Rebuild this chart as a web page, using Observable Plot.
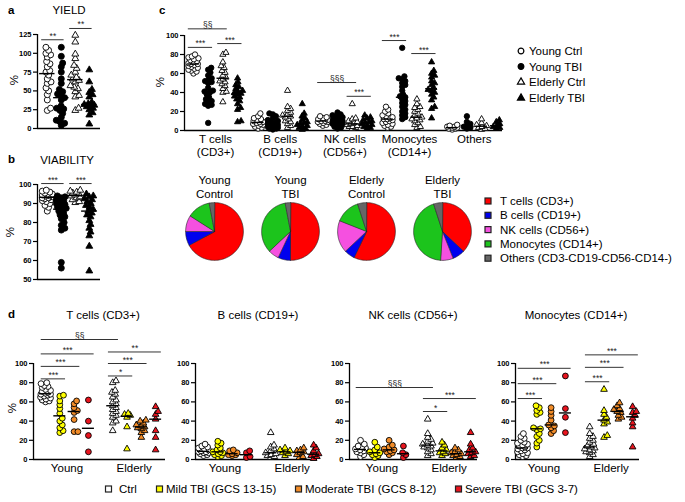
<!DOCTYPE html>
<html><head><meta charset="utf-8">
<script src="https://cdn.jsdelivr.net/npm/d3@7"></script>
<script src="https://cdn.jsdelivr.net/npm/@observablehq/plot@0.6"></script>
<style>
body{margin:0;background:#fff;}
#root{position:relative;width:685px;height:502px;overflow:hidden;font-family:"Liberation Sans",Arial,sans-serif;background:#fff;}
</style></head><body><div id="root"></div>
<script>
const FONT = '"Liberation Sans", Arial, Helvetica, sans-serif';

// ---------------- DATA ----------------
const groupNames = ["Young Ctrl", "Young TBI", "Elderly Ctrl", "Elderly TBI"];

// panel a: YIELD (%)
const yieldYoungCtrl = [108,104,100,98,95,89,86,82,77,75,71,66,62,60,54,50,45,38,27,24];
const yieldYoungTBI = [108,96,87,82,75,66,60,52,49,46,44,41,38,30,27,26,24,20,15,11,9,7,4];
const yieldElderlyCtrl = [124,115,99,93,84,80,75,71,68,66,64,62,57,55,53,49,44,42,27,24];
const yieldElderlyTBI = [78,62,52,48,45,42,35,33,32,31,30,29,27,25,21,18,6];
const yieldTicks = [0,25,50,75,100,125];
const yieldSig = [{a:0,b:1,y:118,label:"**"},{a:2,b:3,y:133,label:"**"}];

// panel b: VIABILITY (%)
const viaYoungCtrl = [97,96.5,96,95.5,95,95,94.5,94,94,93.5,93,93,92.5,92,91.5,91,90,89,88,86];
const viaYoungTBI = [94,93.5,93,92,91.5,91,90,89.5,89,88,87.5,87,86,85,84,83,82,80,78.5,77,76,59,56];
const viaElderlyCtrl = [97,96.5,96,95.5,95,94.5,94,93.5,93,92,91,90.5];
const viaElderlyTBI = [95,94,93.5,92.5,92,91,90,89,88,87,86,85,84,83,81,79,77,75,73,67.5,54.5];
const viaTicks = [50,60,70,80,90,100];
const viaSig = [{a:0,b:1,y:100.5,label:"***"},{a:2,b:3,y:100.5,label:"***"}];

// panel c: cell populations (%)
const cellCats = ["T cells\n(CD3+)", "B cells\n(CD19+)", "NK cells\n(CD56+)", "Monocytes\n(CD14+)", "Others"];
const cTcells = [
  [80,78,77,76,75,74,73,72,71,70,70,69,68,67,66,65,64,63,62,60],
  [66,64,61,58,55,53,52,51,50,45,42,41,40,38,35,33,31,30,28,27,26,8],
  [82,80,72,68,66,63,61,58,56,54,52,51,49,47,44,41,40,30],
  [55,51,48,46,44,42,41,40,39,38,36,35,33,31,28,24,22,10,9]];
const cBcells = [
  [18,15,13,12,11,10,9,9,8,7,7,6,5,4,3,2],
  [18,17,15,13,11,10,9,8,7,6,6,5,5,4,3,3,2,2,1],
  [42,25,23,21,19,17,16,15,14,12,10,9,7,5,3],
  [28,18,15,13,11,9,8,7,6,5,4,3,2,1]];
const cNKcells = [
  [15,14,13,12,11,10,10,9,9,8,7,6,5],
  [19,17,16,15,14,13,12,11,10,10,9,8,7,6,5,4,3,2],
  [28,13,12,10,9,8,7,6,5,4,4,3,2],
  [16,14,13,11,10,9,8,7,6,5,4,3,2]];
const cMonocytes = [
  [25,22,20,18,16,15,14,13,12,12,11,10,9,8,7,6,5,4,3],
  [87,57,55,54,52,50,48,46,42,38,36,35,33,31,29,27,25,22,20,18,16,14,12],
  [33,28,25,24,22,20,18,16,14,13,12,11,10,8,6,4,3],
  [72,63,60,58,56,52,50,48,45,43,42,40,38,35,32,25,23,13]];
const cOthers = [
  [6,5,4,4,3,3,2,2,1],
  [15,9,7,5,4,3,2],
  [12,8,6,5,4,3,2,1],
  [11,9,7,5,4,3,2]];
const cTicks = [0,20,40,60,80,100];
const cSig = [
  {cat:0,a:0,b:2,y:107,label:"§§"},
  {cat:0,a:0,b:1,y:87.5,label:"***"},
  {cat:0,a:2,b:3,y:91.5,label:"***"},
  {cat:2,a:0,b:2,y:50.5,label:"§§§"},
  {cat:2,a:2,b:3,y:36,label:"***"},
  {cat:3,a:0,b:1,y:94.7,label:"***"},
  {cat:3,a:2,b:3,y:81,label:"***"}];

// pies: mean composition (%)
const pieTitles = ["Young\nControl", "Young\nTBI", "Elderly\nControl", "Elderly\nTBI"];
const pieCells = ["T cells (CD3+)", "B cells (CD19+)", "NK cells (CD56+)", "Monocytes (CD14+)", "Others (CD3-CD19-CD56-CD14-)"];
const pieColors = ["#ff0000", "#0000ee", "#f550e0", "#1cc41c", "#666666"];
const pieYoungCtrl = [67,8,9,13,3];
const pieYoungTBI = [50,7,6,34,3];
const pieElderlyCtrl = [57,6,18,14,5];
const pieElderlyTBI = [37,7,7,44,5];

// panel d: by TBI severity
const severityNames = ["Ctrl", "Mild TBI (GCS 13-15)", "Moderate TBI (GCS 8-12)", "Severe TBI (GCS 3-7)"];
const severityColors = ["#ffffff", "#ffff00", "#f28c28", "#e8141e"];
const ageNames = ["Young", "Elderly"];
const dTYoung = [[80,79,77,76,75,73,72,71,70,69,68,68,67,66,65,64,63,62,61,60],[67,66,61,57,53,48,43,40,36,33,30,28],[61,58,54,51,49,41.6,29,29],[62,40,25,8]];
const dTElderly = [[82,80,72,70,68,65,62,60,58,56,54,52,50,48,46,44,40,38,30],[48,47,46,44,34,11],[41,40,38,36,35,34,33,32,30,28,23],[55,50,47,42,30,23,10]];
const dBYoung = [[16,14,13,12,11,10,9,8,8,7,7,6,5,4],[19,17,15,12,10,8,8,7,6,5,4,3],[10,9,7,6,5,5,4],[9,7,3,2]];
const dBElderly = [[28,15,13,11,9,7,6,5,4,3,2],[12,10,9,8,7,6,4],[12,10,9,8,7,5,3,2],[15,12,9,6,5,4,3,1]];
const dNKYoung = [[20,16,14,13,12,11,10,9,8,7,5,3],[18,13,10,8,7,6,5,4,2],[20,15,13,11,10,9,8,7,5],[14,7,5,2]];
const dNKElderly = [[42,27,23,21,19,17,16,15,14,13,12,10,8,6,4],[18,15,12,10,8,7,6,4],[12,10,8,7,6,5,4,3,2],[28,16,12,10,8,7,6,4,3]];
const dMonoYoung = [[27,24,22,20,18,17,16,15,14,13,12,12,11,10,9,8,7,6,5,4,3],[56,54,51,49,47,33,32,31,27,24,20,17,13],[54,50,46,41,36,35,33,30,27],[87,53,44,28]];
const dMonoElderly = [[34,27,24,22,20,18,16,14,13,12,11,10,9,8,7,5,3],[73,51,47,44,41,39,37,25,23],[59,56,53,52,50,49,46,44,42],[55,50,49,46,43,38,34,13]];
const dTicks = [0,20,40,60,80,100];
const dTitles = ["T cells (CD3+)", "B cells (CD19+)", "NK cells (CD56+)", "Monocytes (CD14+)"];
const dTSig = [{a:0,b:4,y:125,label:"§§"},{a:0,b:3,y:110,label:"***"},{a:0,b:2,y:97,label:"***"},{a:0,b:1,y:84,label:"***"},{a:4,b:7,y:112,label:"**"},{a:4,b:6,y:100,label:"***"},{a:4,b:5,y:87,label:"*"}];
const dNKSig = [{a:0,b:4,y:75,label:"§§§"},{a:4,b:7,y:63.5,label:"***"},{a:4,b:5,y:50,label:"*"}];
const dMonoSig = [{a:0,b:3,y:95,label:"***"},{a:0,b:2,y:79,label:"***"},{a:0,b:1,y:63.5,label:"***"},{a:4,b:7,y:109,label:"***"},{a:4,b:6,y:96,label:"***"},{a:4,b:5,y:81,label:"***"}];

// ---------------- HELPERS ----------------
const root = document.getElementById("root");
function place(el, left, top) {
  el.style.position = "absolute";
  el.style.left = left + "px";
  el.style.top = top + "px";
  root.appendChild(el);
}
// compact beeswarm: horizontal pixel offsets, limited to +-cap pixels (overlap allowed)
function swarm(values, pxY, pxX, diam, cap) {
  const pts = values.map(v => ({v, y: v * pxY, x: 0})).sort((a, b) => a.y - b.y);
  const placed = [];
  for (const p of pts) {
    let cands = [0];
    for (const q of placed) {
      const dy = p.y - q.y;
      if (Math.abs(dy) < diam) {
        const dx = Math.sqrt(diam * diam - dy * dy);
        cands.push(q.x + dx, q.x - dx);
      }
    }
    cands = cands.filter(c => Math.abs(c) <= cap);
    cands.push(cap, -cap, cap / 2, -cap / 2);
    cands.sort((a, b) => Math.abs(a) - Math.abs(b));
    let best = null, bestD = -1;
    for (const c of cands) {
      const md = placed.length ? d3.min(placed, q => (q.x - c) ** 2 + (q.y - p.y) ** 2) : Infinity;
      if (md >= diam * diam - 1e-6) { best = c; break; }
      if (md > bestD) { bestD = md; best = c; }
    }
    p.x = best;
    placed.push(p);
  }
  return placed.map(p => ({v: p.v, dx: p.x / pxX}));
}

function scatterPlot(cfg) {
  const {width, height, mt, mb, ml, mr, xmin, pxu, ydom, yticks, groups, sig, med, r, diam, cap, cats} = cfg;
  const xmax = xmin + (width - ml - mr) / pxu;
  const pxY = (height - mt - mb) / (ydom[1] - ydom[0]);
  const marks = [
    Plot.ruleY([ydom[0]], {stroke: "black", strokeWidth: 1.3}),
    Plot.ruleX([xmin], {stroke: "black", strokeWidth: 1.3}),
    Plot.axisY({ticks: yticks, tickSize: 4, tickPadding: 2, fontWeight: "bold", fontSize: 7.5, label: null, strokeWidth: 1.2})
  ];
  const medians = [];
  for (const g of groups) {
    const pts = swarm(g.values, pxY, pxu, diam, cap).map(p => ({x: g.cx + p.dx, y: p.v}));
    marks.push(Plot.dot(pts, {x: "x", y: "y", r: g.symbol === "triangle" ? r * 0.85 : r, symbol: g.symbol, fill: g.fill, stroke: "black", strokeWidth: 0.9}));
    medians.push({y: d3.median(g.values), x1: g.cx - med, x2: g.cx + med});
  }
  marks.push(Plot.ruleY(medians, {y: "y", x1: "x1", x2: "x2", stroke: "black", strokeWidth: 1.4}));
  if (sig) {
    marks.push(Plot.ruleY(sig, {y: "y", x1: "x1", x2: "x2", stroke: "#333", strokeWidth: 1}));
    marks.push(Plot.text(sig, {x: d => (d.x1 + d.x2) / 2, y: "y", text: "label", lineAnchor: "bottom", dy: -1, fontSize: 8.5, fill: "#222"}));
  }
  if (cats) marks.push(Plot.text(cats, {x: "x", y: "y", text: "label", lineAnchor: "top", dy: 3, fontSize: 11.5, lineHeight: 1.13}));
  return Plot.plot({
    width, height, marginTop: mt, marginBottom: mb, marginLeft: ml, marginRight: mr,
    x: {domain: [xmin, xmax], axis: null},
    y: {domain: ydom, label: null},
    style: {fontFamily: FONT, background: "transparent", overflow: "visible", color: "black"},
    marks
  });
}

// ---------------- PANEL a & b ----------------
const abSymbols = [["circle","white"],["circle","black"],["triangle","white"],["triangle","black"]];
function abGroups(arrs) {
  return arrs.map((vals, i) => ({cx: i, values: vals, symbol: abSymbols[i][0], fill: abSymbols[i][1]}));
}
const abSig = s => s.map(d => ({...d, x1: d.a - 0.4, x2: d.b + 0.2}));

place(scatterPlot({
  width: 110, height: 140, mt: 34, mb: 12, ml: 37, mr: 10, xmin: -0.7, pxu: 14,
  ydom: [0,125], yticks: yieldTicks, r: 3, diam: 4, cap: 5, med: 0.55,
  groups: abGroups([yieldYoungCtrl, yieldYoungTBI, yieldElderlyCtrl, yieldElderlyTBI]),
  sig: abSig(yieldSig)
}), 0, 0);

place(scatterPlot({
  width: 110, height: 140, mt: 34, mb: 11, ml: 37, mr: 10, xmin: -0.7, pxu: 14,
  ydom: [50,100], yticks: viaTicks, r: 3, diam: 4, cap: 5, med: 0.55,
  groups: abGroups([viaYoungCtrl, viaYoungTBI, viaElderlyCtrl, viaElderlyTBI]),
  sig: abSig(viaSig)
}), 0, 150);

// ---------------- PANEL c ----------------
const cAll = [cTcells, cBcells, cNKcells, cMonocytes, cOthers];
const cStep = 4.4;
const cGroups = [];
cAll.forEach((cat, ci) => cat.forEach((vals, gi) => cGroups.push({cx: ci * cStep + gi, values: vals, symbol: abSymbols[gi][0], fill: abSymbols[gi][1]})));
place(scatterPlot({
  width: 360, height: 162, mt: 35, mb: 32, ml: 34, mr: 8, xmin: -0.61, pxu: 14.7,
  ydom: [0,100], yticks: cTicks, r: 2.7, diam: 3.6, cap: 5, med: 0.4,
  groups: cGroups,
  sig: cSig.map(d => ({...d, x1: d.cat * cStep + d.a - 0.35, x2: d.cat * cStep + d.b + 0.3})),
  cats: cellCats.map((label, i) => ({label, x: i * cStep + 1.5, y: 0}))
}), 150, 0);

// ---------------- PIES ----------------
const pieAll = [pieYoungCtrl, pieYoungTBI, pieElderlyCtrl, pieElderlyTBI];
const R = 0.38;
const slicePts = [];
pieAll.forEach((vals, i) => {
  const total = d3.sum(vals);
  let a0 = 0;
  vals.forEach((v, j) => {
    const a1 = a0 + v / total * 2 * Math.PI;
    const n = Math.max(2, Math.ceil((a1 - a0) / 0.04));
    const key = i + "-" + j;
    slicePts.push({x: i, y: 0, key, cell: j});
    for (let k = 0; k <= n; k++) {
      const a = a0 + (a1 - a0) * k / n;
      slicePts.push({x: i + R * Math.sin(a), y: R * Math.cos(a), key, cell: j});
    }
    a0 = a1;
  });
});
const pieMarks = pieColors.map((c, j) =>
  Plot.line(slicePts.filter(p => p.cell === j), {x: "x", y: "y", z: "key", fill: c, stroke: "#222", strokeWidth: 0.6, curve: "linear-closed"}));
pieMarks.push(Plot.text(pieTitles.map((t, i) => ({t, x: i, y: 0.59})), {x: "x", y: "y", text: "t", fontSize: 11.5, lineHeight: 1.2, lineAnchor: "middle"}));
place(Plot.plot({
  width: 304, height: 114, margin: 0,
  x: {domain: [-0.5, 3.5], axis: null},
  y: {domain: [-0.5, 1.0], axis: null},
  style: {fontFamily: FONT, background: "transparent", overflow: "visible", color: "black"},
  marks: pieMarks
}), 176, 155);

// ---------------- PANEL d ----------------
const dStep = 4.7;
const dPos = idx => idx < 4 ? idx : dStep + idx - 4;
function dGroups(young, elderly) {
  const gs = [];
  young.forEach((vals, i) => gs.push({cx: i, values: vals, symbol: "circle", fill: severityColors[i]}));
  elderly.forEach((vals, i) => gs.push({cx: dStep + i, values: vals, symbol: "triangle", fill: severityColors[i]}));
  return gs;
}
const dSig = s => s.map(d => ({...d, x1: dPos(d.a) - 0.3, x2: dPos(d.b) + 0.4}));
const dCats = ageNames.map((label, i) => ({label, x: i * dStep + 1.5, y: 0}));
const dPanels = [
  {left: 0, width: 175, ml: 33, mr: 10, xmin: -0.84, young: dTYoung, elderly: dTElderly, sig: dTSig},
  {left: 165, width: 160, ml: 30, mr: 8, xmin: -0.56, young: dBYoung, elderly: dBElderly, sig: null},
  {left: 320, width: 165, ml: 29, mr: 8, xmin: -0.77, young: dNKYoung, elderly: dNKElderly, sig: dNKSig},
  {left: 485, width: 160, ml: 30, mr: 6, xmin: -0.49, young: dMonoYoung, elderly: dMonoElderly, sig: dMonoSig}
];
for (const p of dPanels) {
  place(scatterPlot({
    width: p.width, height: 160, mt: 43, mb: 21, ml: p.ml, mr: p.mr, xmin: p.xmin, pxu: 14.3,
    ydom: [0,100], yticks: dTicks, r: 2.9, diam: 3.8, cap: 5, med: 0.42,
    groups: dGroups(p.young, p.elderly),
    sig: p.sig ? dSig(p.sig) : null,
    cats: dCats
  }), p.left, 320);
}

// ---------------- TEXT & LEGENDS OVERLAY ----------------
const ov = d3.create("svg").attr("width", 685).attr("height", 502)
  .style("position", "absolute").style("left", "0px").style("top", "0px")
  .style("font-family", FONT).style("pointer-events", "none");
function txt(s, x, y, o = {}) {
  const t = ov.append("text").attr("x", x).attr("y", y).text(s)
    .attr("font-size", o.size || 11.5).attr("fill", "black");
  if (o.anchor) t.attr("text-anchor", o.anchor);
  if (o.bold) t.attr("font-weight", "bold");
  if (o.rotate) t.attr("transform", `rotate(-90 ${x} ${y})`).attr("dominant-baseline", "middle");
  return t;
}
// panel letters
txt("a", 8, 14, {bold: true, size: 11.5});
txt("b", 8, 163, {bold: true, size: 11.5});
txt("c", 159, 14, {bold: true, size: 11.5});
txt("d", 8, 318, {bold: true, size: 11.5});
// titles
txt("YIELD", 69, 14, {anchor: "middle"});
txt("VIABILITY", 67, 164, {anchor: "middle"});
const dTitleX = [103, 258, 413, 576];
dTitles.forEach((t, i) => txt(t, dTitleX[i], 319, {anchor: "middle"}));
// y labels
txt("%", 15, 80, {anchor: "middle", rotate: true});
txt("%", 11, 232, {anchor: "middle", rotate: true});
txt("%", 161, 82, {anchor: "middle", rotate: true});
txt("%", 13, 408, {anchor: "middle", rotate: true});

// legend for a-c groups
const legRows = [51, 66.5, 82, 98];
groupNames.forEach((g, i) => {
  const [sym, fill] = abSymbols[i];
  const path = d3.symbol(sym === "circle" ? d3.symbolCircle : d3.symbolTriangle, sym === "circle" ? 26 : 22)();
  ov.append("path").attr("d", path).attr("transform", `translate(521,${legRows[i]})`)
    .attr("fill", fill).attr("stroke", "black").attr("stroke-width", 1.2);
  txt(g, 529, legRows[i] + 4);
});
// pie legend
pieCells.forEach((c, i) => {
  const y = 201 + i * 14.3;
  ov.append("rect").attr("x", 485).attr("y", y - 3).attr("width", 6).attr("height", 6)
    .attr("fill", pieColors[i]).attr("stroke", "#222").attr("stroke-width", 1.2);
  txt(c, 500, y + 4);
});
// bottom legend
const botSq = [108.5, 159.5, 298.5, 458.5];
const botTx = [119, 166, 305, 465];
severityNames.forEach((s, i) => {
  ov.append("rect").attr("x", botSq[i] - 3).attr("y", 486).attr("width", 6).attr("height", 6)
    .attr("fill", severityColors[i]).attr("stroke", "#222").attr("stroke-width", 1.2);
  txt(s, botTx[i], 493);
});
root.appendChild(ov.node());
</script></body></html>
